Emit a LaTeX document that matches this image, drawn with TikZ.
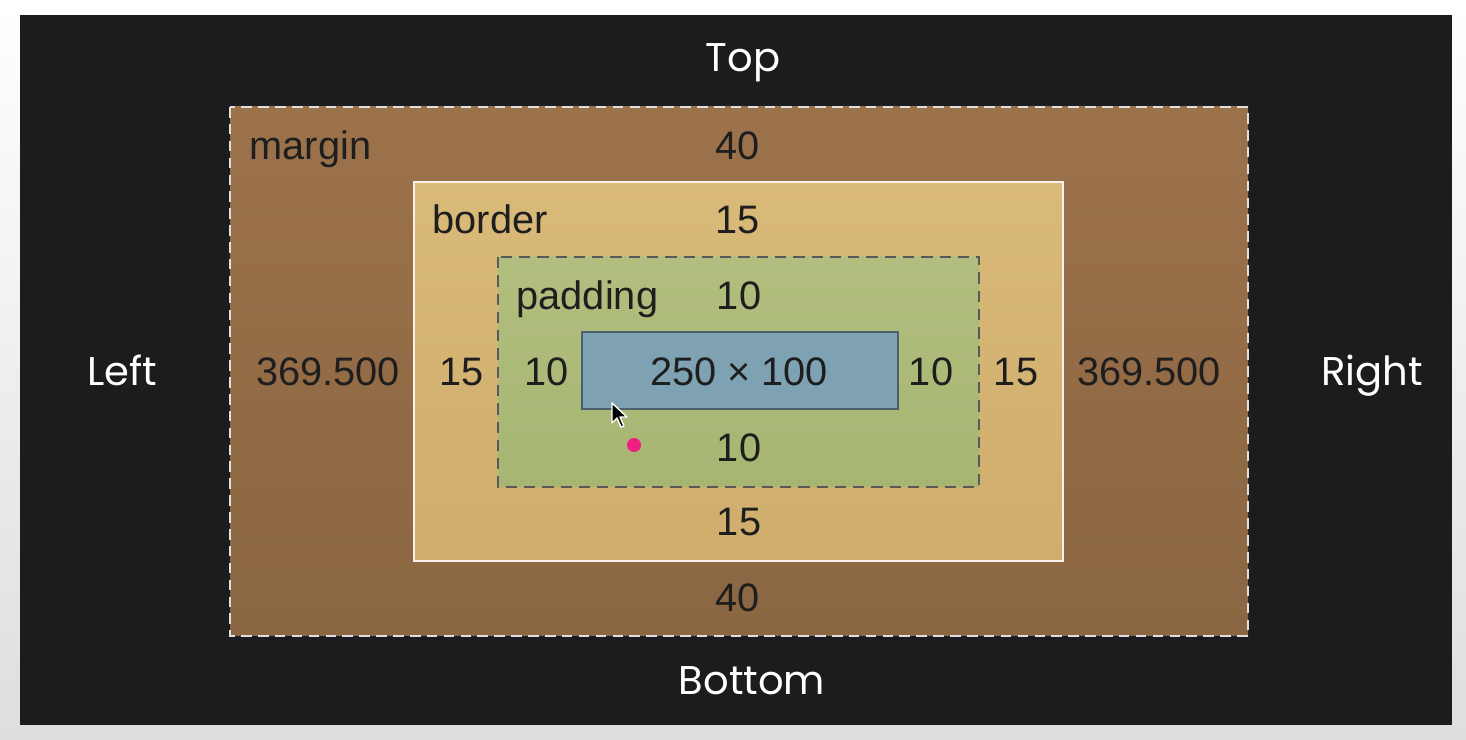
\documentclass[tikz,border=0pt]{standalone}
\usepackage{fontspec}
\setmainfont{Liberation Sans}
\newfontfamily\sidefont{Poppins}
\usetikzlibrary{calc}

\definecolor{panel}{HTML}{1B1C1E}
\definecolor{margintop}{HTML}{9C724B}
\definecolor{marginbot}{HTML}{8A6642}
\definecolor{bordertop}{HTML}{DABA78}
\definecolor{borderbot}{HTML}{CFAD6D}
\definecolor{padtop}{HTML}{B1BE7D}
\definecolor{padbot}{HTML}{A7B573}
\definecolor{contentfill}{HTML}{7EA2B2}
\definecolor{ink}{HTML}{1E1E1E}

\begin{document}
\begin{tikzpicture}[
    x=0.01cm, y=-0.01cm,
    marginbox/.style={top color=margintop, bottom color=marginbot, draw=white!75!gray, dash pattern=on 3pt off 1.8pt, line width=0.55pt},
    borderbox/.style={top color=bordertop, bottom color=borderbot, draw=white!90!brown, line width=0.7pt},
    padbox/.style={top color=padtop, bottom color=padbot, draw=black!65, dash pattern=on 3.2pt off 2pt, line width=0.5pt},
    contentbox/.style={fill=contentfill, draw=black!40!contentfill, line width=0.5pt},
    val/.style={text=ink, font=\fontsize{11.3}{13}\selectfont, anchor=base, inner sep=0pt},
    tag/.style={val, anchor=base west},
    side/.style={text=white, font=\sidefont\fontsize{11.4}{13}\selectfont, anchor=base, inner sep=0pt}
]

    % Fondo de la captura
    \useasboundingbox (0,0) rectangle (1466,740);
    \shade[top color=white, bottom color=black!13] (0,0) rectangle (1466,740);
    \fill[panel] (20,15) rectangle (1452,725);

    % Cajas del modelo (de fuera hacia dentro)
    \path[marginbox] (230,107) rectangle (1248,636);
    \path[borderbox] (414,182) rectangle (1063,561);
    \path[padbox] (498,257) rectangle (979,487);
    \path[contentbox] (582,332) rectangle (898,409);

    % Lados
    \node[side] (top) at (743,72) {Top};
    \node[side] (bottom) at (752,695) {Bottom};
    \node[side] (left) at (122,386) {Left};
    \node[side] (right) at (1372,386) {Right};

    % Nombres de las cajas
    \node[tag] (mname) at (249,160) {margin};
    \node[tag] (bname) at (432,234) {border};
    \node[tag] (pname) at (516,310) {padding};

    % Valores superiores e inferiores
    \node[val] (mtop) at (738,160) {40};
    \node[val] (btop) at (738,234) {15};
    \node[val] (ptop) at (739,310) {10};
    \node[val] (pbot) at (739,462) {10};
    \node[val] (bbot) at (739,536) {15};
    \node[val] (mbot) at (738,612) {40};

    % Fila central
    \node[val] (mleft) at (328,386) {369.500};
    \node[val] (bleft) at (462,386) {15};
    \node[val] (pleft) at (547,386) {10};
    \node[val] (size) at (739,386) {250 × 100};
    \node[val] (pright) at (931,386) {10};
    \node[val] (bright) at (1016,386) {15};
    \node[val] (mright) at (1149,386) {369.500};

    % Cursor y punto
    \draw[fill=black, draw=white, line width=0.4pt, line join=round]
        (612,403) -- (612,423) -- (617,418) -- (621,427) -- (624,426) -- (620,417) -- (627,417) -- cycle;
    \fill[magenta!80!red!90!white] (634,445) circle (7);

\end{tikzpicture}
\end{document}
